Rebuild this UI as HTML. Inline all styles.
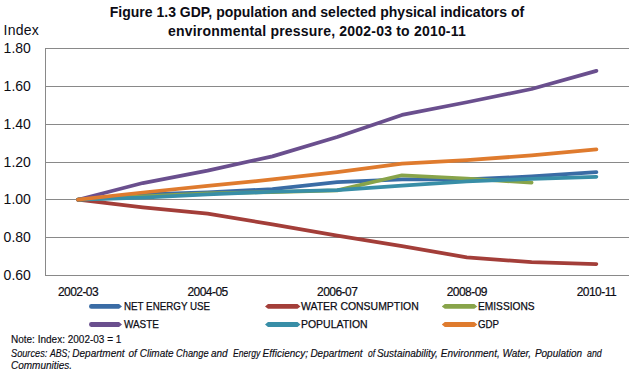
<!DOCTYPE html>
<html><head><meta charset="utf-8"><style>
html,body{margin:0;padding:0;background:#fff;}
body{width:639px;height:376px;position:relative;overflow:hidden;font-family:"Liberation Sans",sans-serif;color:#0c0c14;}
.t{position:absolute;left:0;width:634px;text-align:center;font-weight:bold;font-size:14px;line-height:16px;}
.yl{position:absolute;left:3.6px;font-size:14px;line-height:16px;}
.xl{position:absolute;-webkit-text-stroke:0.2px #0c0c14;top:284.7px;width:60px;text-align:center;font-size:12px;line-height:14px;letter-spacing:-0.55px;}
.lt{position:absolute;-webkit-text-stroke:0.25px #0c0c14;font-size:11.3px;line-height:13px;white-space:nowrap;transform-origin:0 0;}
.n{position:absolute;-webkit-text-stroke:0.15px #0c0c14;left:11px;font-size:10px;line-height:12px;white-space:nowrap;}
svg{position:absolute;left:0;top:0;}
</style></head><body>
<svg width="639" height="376" viewBox="0 0 639 376">
<rect x="45" y="48" width="584" height="1" fill="#898989"/>
<rect x="45" y="86" width="584" height="1" fill="#898989"/>
<rect x="45" y="124" width="584" height="1" fill="#898989"/>
<rect x="45" y="162" width="584" height="1" fill="#898989"/>
<rect x="45" y="199" width="584" height="1" fill="#898989"/>
<rect x="45" y="237" width="584" height="1" fill="#898989"/>
<rect x="45" y="275" width="584" height="1" fill="#898989"/>
<rect x="45" y="48" width="1" height="228" fill="#898989"/>
<polyline points="78.0,199.70 142.8,194.40 207.6,192.32 272.4,189.10 337.2,182.10 402.0,179.26 466.8,179.45 531.6,176.42 596.4,172.07" fill="none" stroke="#3A6CA5" stroke-width="3.75" stroke-linejoin="round" stroke-linecap="round"/>
<polyline points="78.0,199.70 142.8,207.27 207.6,213.70 272.4,224.30 337.2,235.66 402.0,246.07 466.8,257.42 531.6,262.15 596.4,264.04" fill="none" stroke="#A33E39" stroke-width="3.75" stroke-linejoin="round" stroke-linecap="round"/>
<polyline points="78.0,199.70 142.8,196.29 207.6,193.27 272.4,192.13 337.2,190.43 402.0,175.29 466.8,178.50 531.6,182.67" fill="none" stroke="#88A44A" stroke-width="3.75" stroke-linejoin="round" stroke-linecap="round"/>
<polyline points="78.0,199.70 142.8,183.05 207.6,170.56 272.4,156.36 337.2,137.06 402.0,114.92 466.8,102.24 531.6,88.99 596.4,70.82" fill="none" stroke="#6A4F8E" stroke-width="3.75" stroke-linejoin="round" stroke-linecap="round"/>
<polyline points="78.0,199.70 142.8,197.62 207.6,194.40 272.4,191.75 337.2,190.05 402.0,185.51 466.8,181.34 531.6,178.88 596.4,176.80" fill="none" stroke="#388EA7" stroke-width="3.75" stroke-linejoin="round" stroke-linecap="round"/>
<polyline points="78.0,199.70 142.8,192.51 207.6,185.88 272.4,179.45 337.2,172.07 402.0,163.55 466.8,160.15 531.6,155.42 596.4,149.36" fill="none" stroke="#DF7B2E" stroke-width="3.75" stroke-linejoin="round" stroke-linecap="round"/>
<path d="M91.4,304.0 H119 L122,306.4 L119,308.79999999999995 H91.4 A2.4,2.4 0 0 1 91.4,304.0 Z" fill="#3A6CA5"/><polygon points="265,306.4 268,304.0 297.5,304.0 300.5,306.4 297.5,308.79999999999995 268,308.79999999999995" fill="#A33E39"/><polygon points="441.8,306.4 444.8,304.0 474.3,304.0 477.3,306.4 474.3,308.79999999999995 444.8,308.79999999999995" fill="#88A44A"/><path d="M91.4,322.1 H119 L122,324.5 L119,326.9 H91.4 A2.4,2.4 0 0 1 91.4,322.1 Z" fill="#6A4F8E"/><polygon points="265,324.5 268,322.1 297.5,322.1 300.5,324.5 297.5,326.9 268,326.9" fill="#388EA7"/><polygon points="441.8,324.5 444.8,322.1 474.3,322.1 477.3,324.5 474.3,326.9 444.8,326.9" fill="#DF7B2E"/>
</svg>
<div class="t" style="top:4px">Figure 1.3 GDP, population and selected physical indicators of</div>
<div class="t" style="top:23px;letter-spacing:0.2px">environmental pressure, 2002-03 to 2010-11</div>
<div class="yl" style="top:22.4px;letter-spacing:0.25px">Index</div>
<div class="yl" style="top:39.8px">1.80</div>
<div class="yl" style="top:77.8px">1.60</div>
<div class="yl" style="top:115.8px">1.40</div>
<div class="yl" style="top:153.8px">1.20</div>
<div class="yl" style="top:190.8px">1.00</div>
<div class="yl" style="top:228.8px">0.80</div>
<div class="yl" style="top:266.8px">0.60</div>
<div class="xl" style="left:48.0px">2002-03</div>
<div class="xl" style="left:177.6px">2004-05</div>
<div class="xl" style="left:307.2px">2006-07</div>
<div class="xl" style="left:436.8px">2008-09</div>
<div class="xl" style="left:566.4px">2010-11</div>
<div class="lt" style="left:123.7px;top:299.8px;transform:scaleX(0.866)">NET ENERGY USE</div>
<div class="lt" style="left:300.5px;top:299.8px;transform:scaleX(0.924)">WATER CONSUMPTION</div>
<div class="lt" style="left:477.7px;top:299.8px;transform:scaleX(0.902)">EMISSIONS</div>
<div class="lt" style="left:123.7px;top:318.3px;transform:scaleX(0.877)">WASTE</div>
<div class="lt" style="left:300.5px;top:318.3px;transform:scaleX(0.926)">POPULATION</div>
<div class="lt" style="left:477.7px;top:318.3px;transform:scaleX(0.858)">GDP</div>

<div class="n" style="top:334.4px">Note: Index: 2002-03 = 1</div>
<div class="n" style="top:347.5px;left:11.3px;font-style:italic;transform:scaleX(0.92);transform-origin:0 0">Sources:</div><div class="n" style="top:347.5px;left:49.8px;font-style:italic;transform:scaleX(0.87);transform-origin:0 0">ABS;</div><div class="n" style="top:347.5px;left:72.3px;font-style:italic;transform:scaleX(1);transform-origin:0 0">Department</div><div class="n" style="top:347.5px;left:128.5px;font-style:italic;transform:scaleX(1);transform-origin:0 0">of</div><div class="n" style="top:347.5px;left:139.7px;font-style:italic;transform:scaleX(1);transform-origin:0 0">Climate</div><div class="n" style="top:347.5px;left:176.0px;font-style:italic;transform:scaleX(0.93);transform-origin:0 0">Change</div><div class="n" style="top:347.5px;left:211.0px;font-style:italic;transform:scaleX(1);transform-origin:0 0">and</div><div class="n" style="top:347.5px;left:232.7px;font-style:italic;transform:scaleX(0.86);transform-origin:0 0">Energy</div><div class="n" style="top:347.5px;left:262.5px;font-style:italic;transform:scaleX(1);transform-origin:0 0">Efficiency;</div><div class="n" style="top:347.5px;left:310.4px;font-style:italic;transform:scaleX(1);transform-origin:0 0">Department</div><div class="n" style="top:347.5px;left:367.5px;font-style:italic;transform:scaleX(0.85);transform-origin:0 0">of</div><div class="n" style="top:347.5px;left:376.9px;font-style:italic;transform:scaleX(1);transform-origin:0 0">Sustainability,</div><div class="n" style="top:347.5px;left:440.8px;font-style:italic;transform:scaleX(1);transform-origin:0 0">Environment,</div><div class="n" style="top:347.5px;left:502.4px;font-style:italic;transform:scaleX(1);transform-origin:0 0">Water,</div><div class="n" style="top:347.5px;left:534.9px;font-style:italic;transform:scaleX(1);transform-origin:0 0">Population</div><div class="n" style="top:347.5px;left:586.8px;font-style:italic;transform:scaleX(0.88);transform-origin:0 0">and</div>
<div class="n" style="top:360.2px;font-style:italic">Communities.</div>
</body></html>
